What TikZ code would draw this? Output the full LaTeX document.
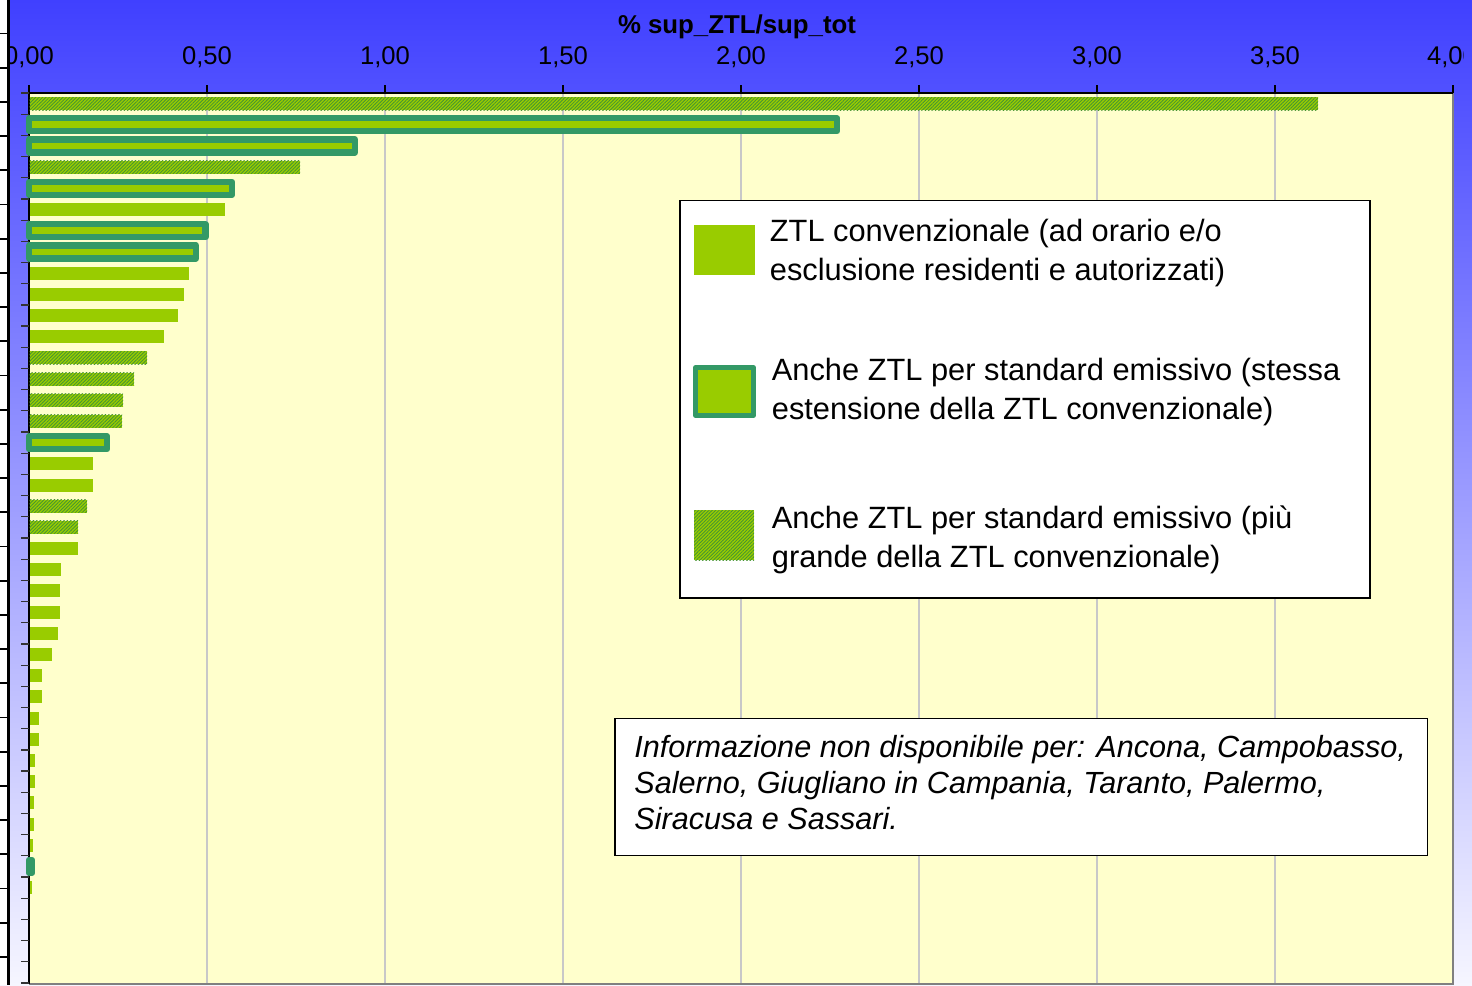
\documentclass[tikz,border=0pt]{standalone}
\usepackage{fontspec}
\setmainfont{Liberation Sans}
\usetikzlibrary{patterns.meta}
\definecolor{zgreen}{RGB}{153,204,0}
\definecolor{zteal}{RGB}{51,153,102}
\definecolor{zhatch}{RGB}{70,148,50}
\definecolor{plotbg}{RGB}{255,255,204}
\definecolor{gridc}{RGB}{200,200,200}
\definecolor{bordc}{RGB}{128,128,128}
\definecolor{bgtop}{RGB}{64,64,255}
\definecolor{bgmid}{RGB}{176,176,255}
\definecolor{bgbot}{RGB}{246,246,255}
\begin{document}
\begin{tikzpicture}[x=0.5pt,y=-0.5pt,
  plainbar/.style={fill=zgreen},
  hatchbar/.style={preaction={fill=zgreen},pattern={Lines[angle=45,distance=1.2pt,line width=0.42pt]},pattern color=zhatch},
  outbar/.style={fill=zgreen,draw=zteal,line width=3.2pt,line join=round},
  ticklab/.style={inner sep=0pt,anchor=base,font=\fontsize{12.8}{15}\selectfont},
  legtext/.style={inner sep=0pt,anchor=base west,align=left,font=\fontsize{15.4}{19.4}\selectfont},
  notetext/.style={inner sep=0pt,anchor=base west,align=left,font=\fontsize{15.3}{18}\selectfont\itshape},
  boxst/.style={draw=black,fill=white,line width=0.8pt}]
\useasboundingbox (0,0) rectangle (1472,985);
\clip (0,0) rectangle (1472,985);
% background gradient
\shade[top color=bgtop,middle color=bgmid,bottom color=bgbot] (0,0) rectangle (1472,985);
% title
\node[inner sep=0pt,anchor=base,font=\fontsize{12.9}{15}\selectfont\bfseries] (title) at (737,33) {\% sup\_ZTL/sup\_tot};
% plot area
\fill[plotbg] (29,93) rectangle (1453,983);
\foreach \gx in {207,385,563,741,919,1097,1275}
  \draw[gridc,line width=0.6pt] (\gx,93) -- (\gx,983);
\draw[bordc,line width=1pt] (1453,93) -- (1453,984) -- (29,984);
% tick labels
\foreach \gx/\lab in {29/{0,00},207/{0,50},385/{1,00},563/{1,50},741/{2,00},919/{2,50},1097/{3,00},1275/{3,50}}
  \node[ticklab] (lab\gx) at (\gx,64) {\lab};
\begin{scope}
  \clip (1400,0) rectangle (1463.5,90);
  \node[ticklab] (lab1453) at (1452,64) {4,00};
\end{scope}
% top axis
\draw[black,line width=0.7pt] (29,93) -- (1453,93);
\foreach \gx in {29,207,385,563,741,919,1097,1275,1453}
  \draw[black,line width=0.6pt] (\gx,93) -- (\gx,85);
% left axis
\draw[black,line width=0.8pt] (29,85) -- (29,984);
\foreach \k in {0,...,42}
  \draw[black!80,line width=0.6pt] (21,93+21.19*\k) -- (29,93+21.19*\k);
% bars
\foreach \i/\e in {6/225,9/189,10/184,11/178,12/164,18/93,19/93,22/78,23/61,24/60,25/60,26/58,27/52,28/42,29/42,30/39,31/39,32/35,33/35,34/34,35/34,36/33,38/32}
  \fill[plainbar] (29.5,{93+21.19*(\i-0.5)-6.5}) rectangle (\e,{93+21.19*(\i-0.5)+6.5});
\foreach \i/\e in {1/1318,4/300,13/147,14/134,15/123,16/122,20/87,21/78}
  \fill[hatchbar] (29.5,{93+21.19*(\i-0.5)-6.5}) rectangle (\e,{93+21.19*(\i-0.5)+6.5});
\foreach \i/\e in {2/837,3/355,5/232,7/205.5,8/196,17/107,37/32}
  \filldraw[outbar] (29,{93+21.19*(\i-0.5)-6.5}) rectangle (\e,{93+21.19*(\i-0.5)+6.5});
% legend
\draw[boxst] (680,200.5) rectangle (1370,598);
\fill[plainbar] (694,225) rectangle (755,275);
\node[legtext] (leg1) at (769.5,280.7) {ZTL convenzionale (ad orario e/o\\esclusione residenti e autorizzati)};
\filldraw[outbar,line width=2.3pt] (695.5,367.5) rectangle (753.5,415.5);
\node[legtext] (leg2) at (771.5,419.5) {Anche ZTL per standard emissivo (stessa\\estensione della ZTL convenzionale)};
\fill[hatchbar] (694,510) rectangle (754,560);
\node[legtext] (leg3) at (771.5,567) {Anche ZTL per standard emissivo (più\\grande della ZTL convenzionale)};
% note
\draw[boxst] (615,718.5) rectangle (1427.5,855.5);
\node[notetext] (note) at (634,829) {Informazione non disponibile per: Ancona, Campobasso,\\Salerno, Giugliano in Campania, Taranto, Palermo,\\Siracusa e Sassari.};
% left strip of neighbouring axis
\fill[white] (0,0) rectangle (8,985);
\draw[black,line width=1.35pt] (8.5,0) -- (8.5,985);
\foreach \k in {0,...,29}
  \draw[black,line width=0.9pt] (0,{-0.7+34.2*\k}) -- (8.5,{-0.7+34.2*\k});
\end{tikzpicture}
\end{document}
